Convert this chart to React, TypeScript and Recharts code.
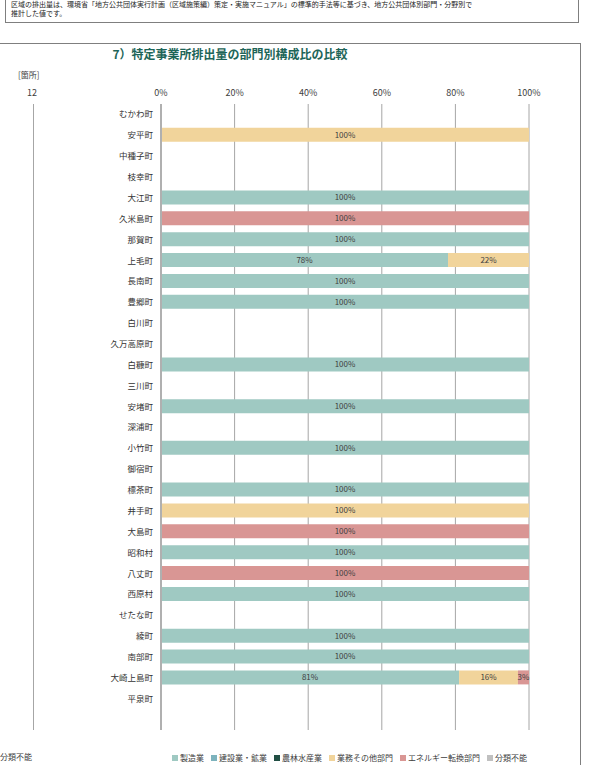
import { BarChart, Bar, XAxis, YAxis, CartesianGrid, LabelList } from 'recharts'

const FONT = '"Noto Sans CJK JP", "Noto Sans", sans-serif'

// 市町村（最後の空欄は元グラフの余白行）
const TOWNS = [
  'むかわ町', '安平町', '中種子町', '枝幸町', '大江町', '久米島町', '那賀町', '上毛町',
  '長南町', '豊郷町', '白川町', '久万高原町', '白糠町', '三川町', '安堵町', '深浦町',
  '小竹町', '御宿町', '標茶町', '井手町', '大島町', '昭和村', '八丈町', '西原村',
  'せたな町', '綾町', '南部町', '大崎上島町', '平泉町', ''
]

// 部門別構成比 (%)
const MANUFACTURING = [
  null, null, null, null, 100, null, 100, 78, 100, 100, null, null, 100, null, 100,
  null, 100, null, 100, null, null, 100, null, 100, null, 100, 100, 81, null, null
]
const CONSTRUCTION: (number | null)[] = []
const AGRICULTURE: (number | null)[] = []
const COMMERCIAL = [
  null, 100, null, null, null, null, null, 22, null, null, null, null, null, null, null,
  null, null, null, null, 100, null, null, null, null, null, null, null, 16, null, null
]
const ENERGY = [
  null, null, null, null, null, 100, null, null, null, null, null, null, null, null, null,
  null, null, null, null, null, 100, null, 100, null, null, null, null, 3, null, null
]
const UNKNOWN: (number | null)[] = []

const X_TICKS = [0, 20, 40, 60, 80, 100]

const SERIES = [
  { key: '製造業', values: MANUFACTURING, color: '#9fc9c2' },
  { key: '建設業・鉱業', values: CONSTRUCTION, color: '#7db3bd' },
  { key: '農林水産業', values: AGRICULTURE, color: '#214f44' },
  { key: '業務その他部門', values: COMMERCIAL, color: '#f1d49b' },
  { key: 'エネルギー転換部門', values: ENERGY, color: '#d99694' },
  { key: '分類不能', values: UNKNOWN, color: '#c0c0c0' },
]

const chartData = TOWNS.map((name, i) => {
  const row: Record<string, any> = { name }
  SERIES.forEach((s) => {
    const v = s.values[i]
    if (v != null) row[s.key] = v
  })
  return row
})

const pct = (v: any) => (v ? `${v}%` : '')

export default function App() {
  return (
    <div
      style={{
        position: 'absolute', left: 0, top: 0, width: 590, height: 765,
        overflow: 'hidden', background: '#fff', fontFamily: FONT, color: '#404040',
      }}
    >
      {/* 上の注記枠 */}
      <div
        style={{
          position: 'absolute', left: 5, top: -12, width: 574, height: 35,
          border: '1px solid #7f7f7f', boxSizing: 'border-box',
        }}
      />
      <div style={{ position: 'absolute', left: 11, top: 0, fontSize: 7, lineHeight: '9px', color: '#222' }}>
        区域の排出量は、環境省「地方公共団体実行計画（区域施策編）策定・実施マニュアル」の標準的手法等に基づき、地方公共団体別部門・分野別で
        <br />
        推計した値です。
      </div>

      {/* グラフ枠 */}
      <div
        style={{
          position: 'absolute', left: -10, top: 43, width: 591, height: 740,
          border: '1px solid #7f7f7f', boxSizing: 'border-box',
        }}
      />
      <div
        style={{
          position: 'absolute', left: 0, width: 460, top: 45, textAlign: 'center',
          fontSize: 12, fontWeight: 700, color: '#1d6558',
        }}
      >
        7）特定事業所排出量の部門別構成比の比較
      </div>

      {/* 左隣のグラフの一部 */}
      <div style={{ position: 'absolute', left: 18, top: 69, fontSize: 8 }}>[箇所]</div>
      <div style={{ position: 'absolute', left: 27, top: 86, fontSize: 9 }}>12</div>
      <div style={{ position: 'absolute', left: 33, top: 104, width: 1, height: 626, background: '#a6a6a6' }} />
      <div style={{ position: 'absolute', left: 0, top: 751, fontSize: 8 }}>分類不能</div>

      <div style={{ position: 'absolute', left: 0, top: 0 }}>
        <BarChart
          width={590}
          height={765}
          data={chartData}
          layout="vertical"
          margin={{ top: 80, right: 61, bottom: 35, left: 0 }}
          barSize={14}
        >
          <CartesianGrid horizontal={false} stroke="#a6a6a6" />
          <XAxis
            type="number"
            orientation="top"
            domain={[0, 100]}
            ticks={X_TICKS}
            tickFormatter={(v) => `${v}%`}
            axisLine={false}
            tickLine={false}
            height={24}
            tick={{ fontSize: 9, fill: '#404040', fontFamily: FONT }}
          />
          <YAxis
            type="category"
            dataKey="name"
            width={161}
            interval={0}
            tickLine={false}
            axisLine={{ stroke: '#b0b0b0', strokeWidth: 2 }}
            tick={{ fontSize: 8.5, fill: '#333', fontFamily: FONT }}
          />
          {SERIES.map((s) => (
            <Bar key={s.key} dataKey={s.key} stackId="a" fill={s.color} isAnimationActive={false}>
              <LabelList
                dataKey={s.key}
                position="center"
                formatter={pct}
                style={{ fontSize: 8, fill: '#404040', fontFamily: FONT }}
              />
            </Bar>
          ))}
        </BarChart>
      </div>

      {/* 凡例 */}
      <div
        style={{
          position: 'absolute', left: 172, top: 752, display: 'flex', alignItems: 'center',
          fontSize: 8, whiteSpace: 'nowrap',
        }}
      >
        {SERIES.map((s) => (
          <div key={s.key} style={{ display: 'flex', alignItems: 'center', marginRight: 7 }}>
            <span style={{ width: 6, height: 6, background: s.color, marginRight: 2, display: 'inline-block' }} />
            {s.key}
          </div>
        ))}
      </div>
    </div>
  )
}
